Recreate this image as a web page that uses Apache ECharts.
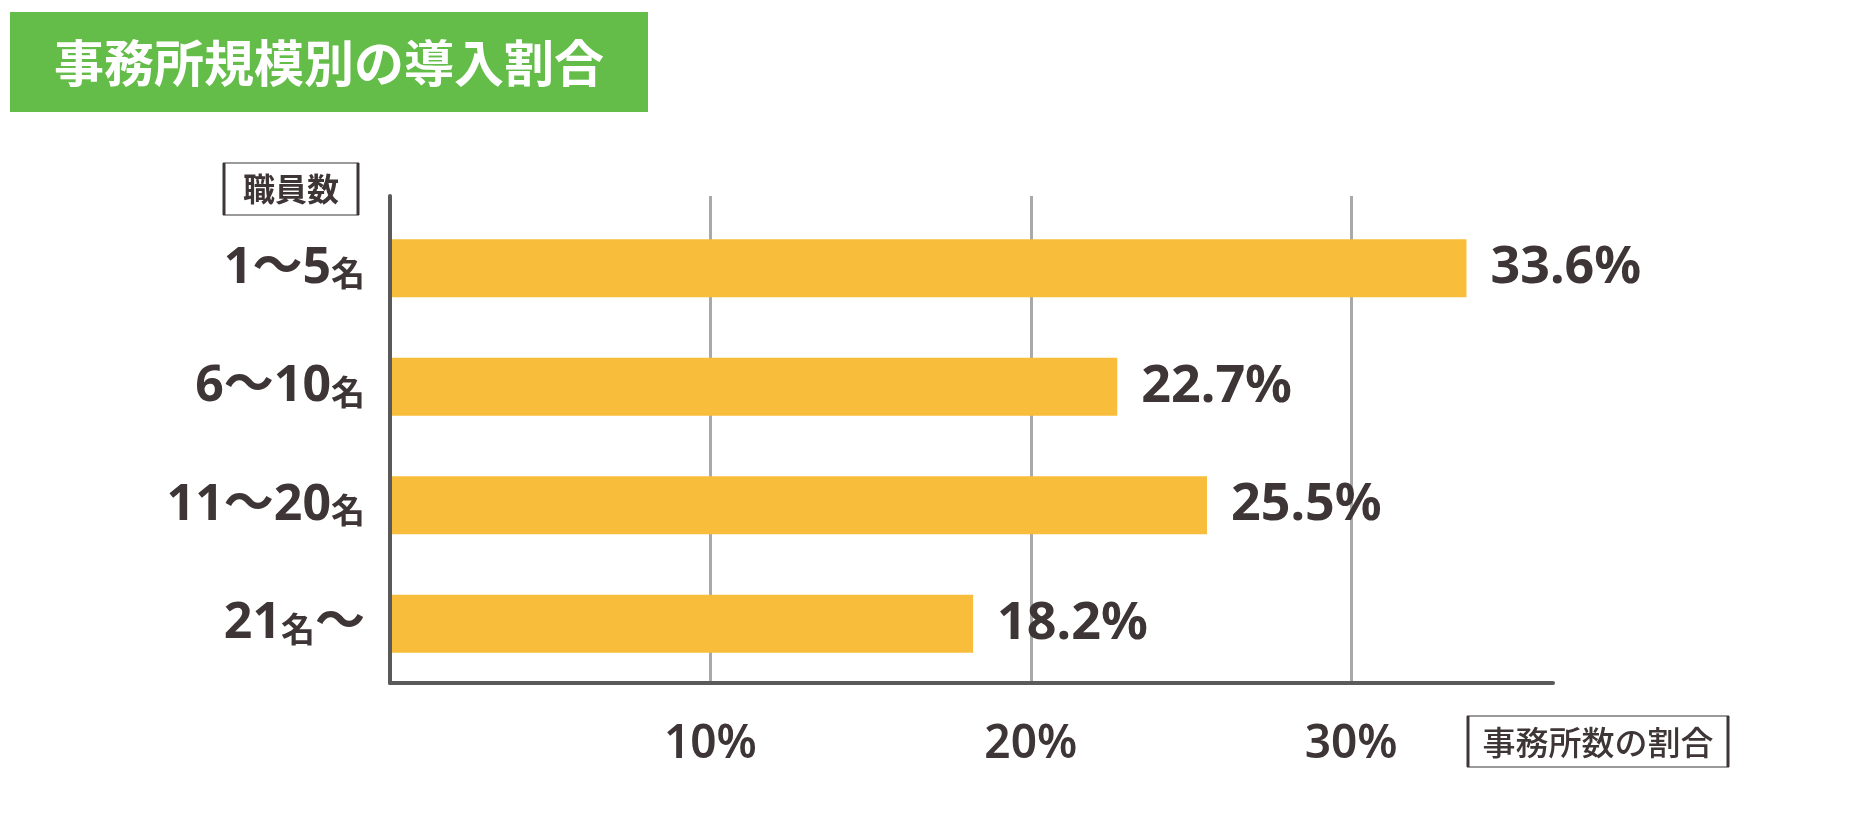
<!DOCTYPE html>
<html>
<head>
<meta charset="utf-8">
<script src="https://cdn.jsdelivr.net/npm/echarts@6/dist/echarts.min.js"></script>
<style>
  html, body { margin: 0; padding: 0; background: #ffffff; }
  #chart { width: 1865px; height: 836px; }
</style>
</head>
<body>
<div id="chart"></div>
<script>
// ---- data ----
const titleText = '事務所規模別の導入割合';
const yAxisTitle = '職員数';
const xAxisTitle = '事務所数の割合';
const categories = ['1～5名', '6～10名', '11～20名', '21名～'];
const shares = [33.6, 22.7, 25.5, 18.2];
const axisMin = 0;
const axisMax = 36.3;
const axisInterval = 10;

const TEXT = '#3e3536';
const LATIN = "'Noto Sans', 'Noto Sans CJK JP', sans-serif";
const CJK = "'Noto Sans CJK JP', 'Noto Sans', sans-serif";

function catLabel(v) {
  const parts = v.split('名');
  let s = '';
  if (parts[0]) s += '{n|' + parts[0] + '}';
  s += '{s|名}';
  if (parts[1]) s += '{n|' + parts[1] + '}';
  return s;
}

const chart = echarts.init(document.getElementById('chart'), null, { renderer: 'canvas' });

const option = {
  backgroundColor: '#ffffff',
  animation: false,
  grid: [
    { left: 390, right: 312, top: 209, bottom: 153, containLabel: false },
    { left: 390, right: 312, top: 196, bottom: 153, containLabel: false }
  ],
  xAxis: [
    { type: 'value', gridIndex: 0, min: axisMin, max: axisMax, interval: axisInterval, show: false },
    {
      type: 'value', gridIndex: 1, min: axisMin, max: axisMax, interval: axisInterval, z: 0,
      axisLine: { show: true, lineStyle: { color: '#5a5a5a', width: 4 } },
      axisTick: { show: false },
      splitLine: { show: true, showMinLine: false, showMaxLine: false, lineStyle: { color: '#a9a9a9', width: 3 } },
      axisLabel: {
        show: true, showMinLabel: false, showMaxLabel: false, margin: 39,
        formatter: v => (v === 0 ? '' : v + '%'),
        color: TEXT, fontSize: 46, fontWeight: 600, fontFamily: LATIN
      }
    }
  ],
  yAxis: [
    {
      type: 'category', gridIndex: 0, data: categories, inverse: true,
      axisLine: { show: false }, axisTick: { show: false }, splitLine: { show: false },
      axisLabel: {
        margin: 25,
        formatter: catLabel,
        rich: {
          n: { fontSize: 50, fontWeight: 'bold', color: TEXT, fontFamily: LATIN, lineHeight: 52 },
          s: { fontSize: 34, fontWeight: 'bold', color: TEXT, fontFamily: CJK, lineHeight: 52, padding: [10, 0, 0, 0] }
        }
      }
    },
    {
      type: 'value', gridIndex: 1, z: 3,
      axisLine: { show: true, onZero: false, lineStyle: { color: '#5a5a5a', width: 4 } },
      axisTick: { show: false }, axisLabel: { show: false }, splitLine: { show: false }
    }
  ],
  series: [
    {
      type: 'bar', xAxisIndex: 0, yAxisIndex: 0, data: shares,
      barWidth: 58, z: 2,
      itemStyle: { color: '#f8bd3a' },
      label: {
        show: true, position: 'right', distance: 24,
        formatter: p => p.value.toFixed(1) + '%',
        color: TEXT, fontSize: 52, fontWeight: 'bold', fontFamily: LATIN
      }
    }
  ],
  graphic: [
    { type: 'rect', left: 10, top: 12, shape: { width: 638, height: 100 }, style: { fill: '#63bd48' }, z: 10 },
    { type: 'text', x: 54, y: 63, z: 11, style: { text: titleText, fill: '#ffffff', font: 'bold 50px ' + CJK, textVerticalAlign: 'middle', textAlign: 'left' } },
    // y-axis title box
    { type: 'rect', shape: { x: 224, y: 163, width: 134, height: 52 }, style: { fill: 'none', stroke: '#9a9a9a', lineWidth: 2 }, z: 10 },
    { type: 'line', shape: { x1: 224, y1: 163, x2: 224, y2: 215 }, style: { stroke: '#3e3536', lineWidth: 3 }, z: 11 },
    { type: 'line', shape: { x1: 358, y1: 163, x2: 358, y2: 215 }, style: { stroke: '#3e3536', lineWidth: 3 }, z: 11 },
    { type: 'text', x: 291, y: 189, z: 11, style: { text: yAxisTitle, fill: TEXT, font: 'bold 32px ' + CJK, textAlign: 'center', textVerticalAlign: 'middle' } },
    // x-axis title box
    { type: 'rect', shape: { x: 1468, y: 716, width: 260, height: 51 }, style: { fill: 'none', stroke: '#9a9a9a', lineWidth: 2 }, z: 10 },
    { type: 'line', shape: { x1: 1468, y1: 716, x2: 1468, y2: 767 }, style: { stroke: '#3e3536', lineWidth: 3 }, z: 11 },
    { type: 'line', shape: { x1: 1728, y1: 716, x2: 1728, y2: 767 }, style: { stroke: '#3e3536', lineWidth: 3 }, z: 11 },
    { type: 'text', x: 1598, y: 742, z: 11, style: { text: xAxisTitle, fill: TEXT, font: '500 33px ' + CJK, textAlign: 'center', textVerticalAlign: 'middle' } }
  ]
};

chart.setOption(option);
</script>
</body>
</html>
